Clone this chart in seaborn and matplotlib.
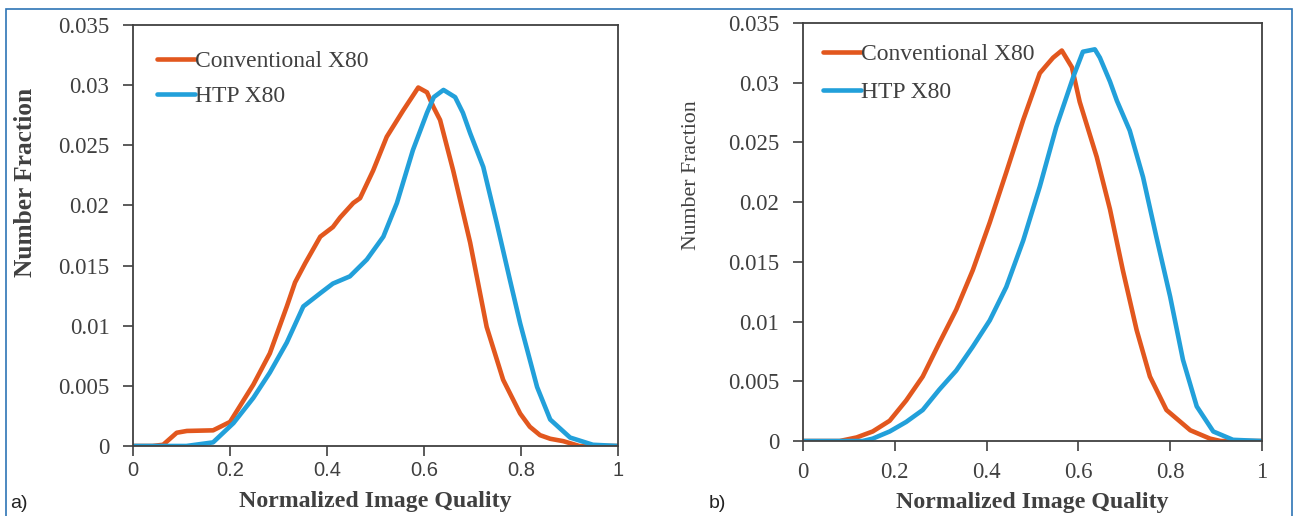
## number fraction vs normalized image quality, two panels
import matplotlib
matplotlib.use("Agg")
import matplotlib.pyplot as plt
from matplotlib.patches import Rectangle
import seaborn as sns

## panel a)
a_conv_x = [0.0, 0.04, 0.062, 0.09, 0.111, 0.165, 0.2, 0.248, 0.282, 0.317, 0.334, 0.355,
            0.386, 0.412, 0.427, 0.454, 0.468, 0.495, 0.523, 0.557, 0.575, 0.588, 0.606,
            0.619, 0.633, 0.66, 0.695, 0.729, 0.763, 0.798, 0.818, 0.839, 0.86, 0.887,
            0.92, 1.0]
a_conv_y = [0.0, 0.0, 0.0001, 0.0011, 0.00125, 0.0013, 0.002, 0.0051, 0.0077, 0.0116, 0.0136,
            0.0152, 0.0174, 0.0182, 0.019, 0.0202, 0.0206, 0.0229, 0.0257, 0.0279, 0.029,
            0.0298, 0.0294, 0.0282, 0.0271, 0.0229, 0.0169, 0.0099, 0.0055, 0.0027, 0.0016,
            0.0009, 0.0006, 0.0004, 0.0, 0.0]
a_htp_x = [0.0, 0.11, 0.165, 0.207, 0.248, 0.282, 0.317, 0.351, 0.386, 0.412, 0.447, 0.482,
           0.516, 0.544, 0.577, 0.606, 0.62, 0.64, 0.664, 0.68, 0.695, 0.722, 0.75, 0.777,
           0.798, 0.833, 0.86, 0.901, 0.948, 1.0]
a_htp_y = [0.0, 0.0, 0.0003, 0.0019, 0.004, 0.0061, 0.0086, 0.0116, 0.0127, 0.0135, 0.0141,
           0.0155, 0.0174, 0.0202, 0.0246, 0.0277, 0.029, 0.0296, 0.029, 0.0277, 0.026,
           0.0232, 0.0185, 0.0138, 0.0102, 0.0049, 0.0022, 0.0007, 0.0001, 0.0]

## panel b)
b_conv_x = [0.0, 0.08, 0.117, 0.152, 0.189, 0.225, 0.261, 0.297, 0.334, 0.37, 0.407, 0.443,
            0.48, 0.516, 0.527, 0.545, 0.564, 0.586, 0.603, 0.64, 0.669, 0.697, 0.727,
            0.756, 0.792, 0.844, 0.887, 0.91, 1.0]
b_conv_y = [0.0, 0.0, 0.0003, 0.0008, 0.0017, 0.0034, 0.0054, 0.0082, 0.011, 0.0143, 0.0183,
            0.0225, 0.0269, 0.0308, 0.0313, 0.0321, 0.0327, 0.0313, 0.0284, 0.0238, 0.0194,
            0.0143, 0.0093, 0.0054, 0.0026, 0.0009, 0.0002, 0.0, 0.0]
b_htp_x = [0.0, 0.13, 0.152, 0.189, 0.225, 0.261, 0.297, 0.334, 0.37, 0.407, 0.443, 0.48,
           0.516, 0.552, 0.59, 0.61, 0.636, 0.647, 0.669, 0.684, 0.712, 0.741, 0.77, 0.8,
           0.828, 0.858, 0.894, 0.937, 1.0]
b_htp_y = [0.0, 0.0, 0.0002, 0.0008, 0.0016, 0.0026, 0.0043, 0.0059, 0.0079, 0.0101, 0.0129,
           0.0168, 0.0213, 0.0263, 0.0306, 0.0326, 0.0328, 0.0321, 0.0301, 0.0285, 0.026,
           0.0221, 0.0171, 0.0121, 0.0068, 0.0029, 0.0008, 0.0001, 0.0]

x_ticks = [0, 0.2, 0.4, 0.6, 0.8, 1]
x_ticklabels = ["0", "0.2", "0.4", "0.6", "0.8", "1"]
y_ticks = [0, 0.005, 0.01, 0.015, 0.02, 0.025, 0.03, 0.035]
y_ticklabels = ["0", "0.005", "0.01", "0.015", "0.02", "0.025", "0.03", "0.035"]

clr_conv = "#E2571E"
clr_htp = "#22A0DA"
txt = "#404040"

sns.set_style("ticks")
plt.rcParams["font.family"] = ["Liberation Serif", "DejaVu Serif"]

fig = plt.figure(figsize=(12.98, 5.16), dpi=100)
ax_a = fig.add_axes([0.1025, 0.1357, 0.3737, 0.8159])
ax_b = fig.add_axes([0.6186, 0.1453, 0.3536, 0.81])


def draw_panel(ax, cx, cy, hx, hy, xtick_font, xtick_size, xpad, ylab_size, ylab_weight,
               ylab_pos, xlab_y, leg_anchor, leg_space):
    kw = dict(linewidth=3.3, sort=False, solid_joinstyle="round", solid_capstyle="round")
    sns.lineplot(x=cx, y=cy, ax=ax, color=clr_conv, label="Conventional X80", **kw)
    sns.lineplot(x=hx, y=hy, ax=ax, color=clr_htp, label="HTP X80", **kw)
    ax.set_xlim(0, 1)
    ax.set_ylim(0, 0.035)
    ax.set_xticks(x_ticks)
    ax.set_xticklabels(x_ticklabels, fontfamily=xtick_font, fontsize=xtick_size, color=txt)
    ax.set_yticks(y_ticks)
    ax.set_yticklabels(y_ticklabels, fontsize=16.5, color=txt)
    ax.tick_params(direction="out", length=7, width=1.2, color=txt)
    ax.tick_params(axis="y", pad=10)
    ax.tick_params(axis="x", pad=xpad)
    for sp in ax.spines.values():
        sp.set_color(txt)
        sp.set_linewidth(1.3)
    ax.set_xlabel("Normalized Image Quality", fontsize=17.2, fontweight="bold", color=txt)
    ax.xaxis.set_label_coords(0.5, xlab_y)
    ax.set_ylabel("Number Fraction", fontsize=ylab_size, fontweight=ylab_weight, color=txt)
    ax.yaxis.set_label_coords(*ylab_pos)
    leg = ax.legend(loc="upper left", bbox_to_anchor=leg_anchor, frameon=False,
                    fontsize=17, handlelength=1.6, handletextpad=0.0,
                    labelspacing=leg_space, borderaxespad=0.0)
    for t in leg.get_texts():
        t.set_color(txt)


draw_panel(ax_a, a_conv_x, a_conv_y, a_htp_x, a_htp_y, "Liberation Sans", 14.5, 4,
           18.3, "bold", (-0.198, 0.625), -0.107, (0.03, 0.962), 0.58)
draw_panel(ax_b, b_conv_x, b_conv_y, b_htp_x, b_htp_y, "Liberation Serif", 16.5, 8,
           15.7, "normal", (-0.222, 0.636), -0.121, (0.023, 0.974), 0.7)

fig.text(0.008, 0.015, "a)", fontfamily="Liberation Sans", fontsize=14, color="#222222")
fig.text(0.546, 0.015, "b)", fontfamily="Liberation Sans", fontsize=14, color="#222222")

## thin blue frame around the figure
fig.add_artist(Rectangle((0.0046, -0.1), 0.9908, 1.0826, transform=fig.transFigure,
                         fill=False, edgecolor="#2E74B5", linewidth=1.2))

fig.savefig("out.png", dpi=100)
